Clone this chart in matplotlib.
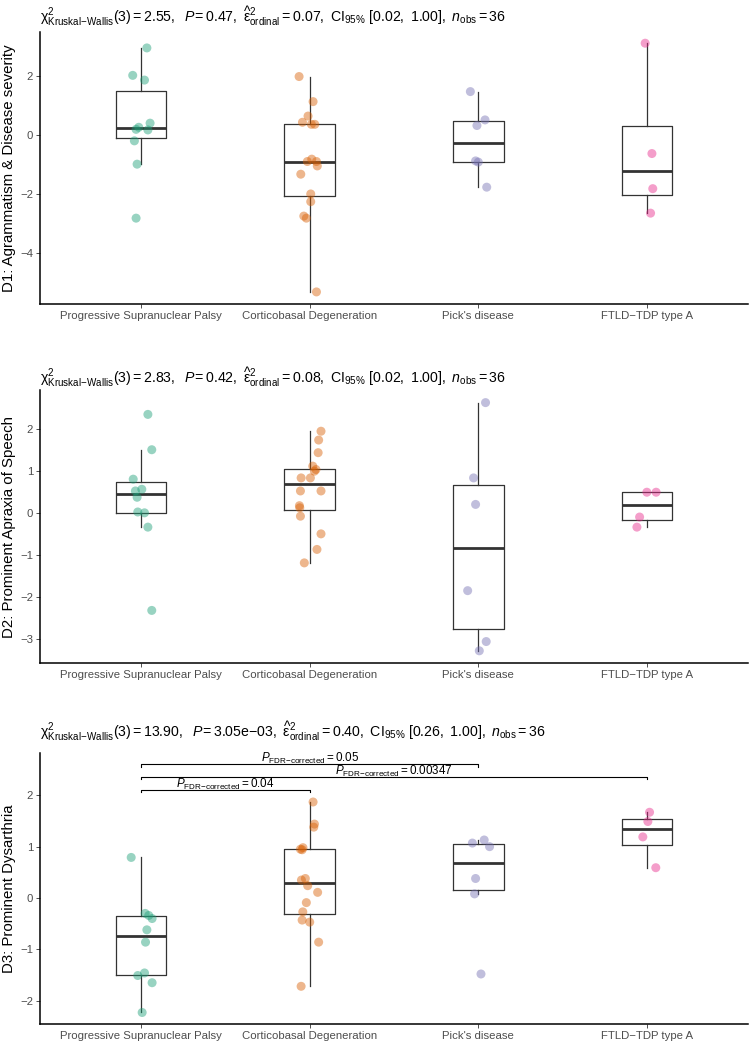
import numpy as np
import matplotlib
matplotlib.use('Agg')
from matplotlib import pyplot as plt

plt.rcParams['font.family'] = ['Liberation Sans', 'DejaVu Sans']
plt.rcParams['mathtext.fontset'] = 'custom'
plt.rcParams['mathtext.rm'] = 'Liberation Sans'
plt.rcParams['mathtext.it'] = 'Liberation Sans:italic'
plt.rcParams['mathtext.bf'] = 'Liberation Sans:bold'
plt.rcParams['mathtext.default'] = 'regular'

groups = ['Progressive Supranuclear Palsy', 'Corticobasal Degeneration',
          "Pick's disease", 'FTLD\u2212TDP type A']
colors = ['#1B9E77', '#D95F02', '#7570B3', '#E7298A']

# D1: Agrammatism & Disease severity
d1_psp = [2.95, 2.02, 1.86, 0.40, 0.26, 0.19, 0.17, -0.20, -0.99, -2.82]
d1_cbd = [1.98, 1.13, 0.64, 0.43, 0.36, 0.36, -0.82, -0.90, -0.90, -1.05,
          -1.33, -2.00, -2.26, -2.75, -2.82, -5.32]
d1_pick = [1.47, 0.51, 0.32, -0.88, -0.92, -1.77]
d1_ftld = [3.11, -0.63, -1.82, -2.65]

# D2: Prominent Apraxia of Speech
d2_psp = [2.34, 1.50, 0.80, 0.56, 0.52, 0.37, 0.02, 0.00, -0.34, -2.32]
d2_cbd = [1.94, 1.73, 1.43, 1.11, 1.03, 0.99, 0.83, 0.83, 0.52, 0.52,
          0.17, 0.12, -0.08, -0.50, -0.87, -1.19]
d2_pick = [2.62, 0.83, 0.20, -1.85, -3.06, -3.28]
d2_ftld = [0.49, 0.49, -0.10, -0.34]

# D3: Prominent Dysarthria
d3_psp = [0.79, -0.30, -0.34, -0.40, -0.62, -0.86, -1.46, -1.51, -1.65, -2.23]
d3_cbd = [1.87, 1.44, 1.38, 0.98, 0.95, 0.94, 0.38, 0.35, 0.24, 0.11,
          -0.09, -0.27, -0.43, -0.47, -0.86, -1.72]
d3_pick = [1.13, 1.07, 1.00, 0.38, 0.08, -1.48]
d3_ftld = [1.67, 1.49, 1.19, 0.59]

# horizontal jitter of the points
j1 = [[0.034, -0.05, 0.02, 0.053, -0.014, -0.03, 0.04, -0.04, -0.024, -0.03],
      [-0.063, 0.02, -0.01, -0.043, 0.01, 0.03, 0.012, -0.014, 0.04, 0.045,
       -0.053, 0.006, 0.006, -0.035, -0.02, 0.04],
      [-0.047, 0.04, -0.008, -0.016, 0.0, 0.05],
      [-0.01, 0.03, 0.035, 0.022]]
j2 = [[0.04, 0.063, -0.047, 0.004, -0.034, -0.024, -0.02, 0.02, 0.04, 0.063],
      [0.067, 0.053, 0.05, 0.018, 0.037, 0.028, -0.051, 0.004, -0.055, 0.067,
       -0.061, -0.059, -0.055, 0.067, 0.043, -0.032],
      [0.043, -0.028, -0.016, -0.063, 0.047, 0.006],
      [0.0, 0.055, -0.043, -0.059]]
j3 = [[-0.059, 0.024, 0.045, 0.065, 0.034, 0.026, 0.02, -0.02, 0.065, 0.006],
      [0.02, 0.028, 0.024, -0.04, -0.055, -0.045, -0.026, -0.049, -0.012, 0.047,
       -0.02, -0.041, -0.045, 0.0, 0.053, -0.051],
      [0.035, -0.035, 0.067, -0.016, -0.022, 0.016],
      [0.016, 0.006, -0.024, 0.053]]

titles = [
    r'$\chi^{2}_{\mathrm{Kruskal{-}Wallis}}(3) = 2.55,\ \ \mathit{P}\!= 0.47,\ \widehat{\varepsilon}^{2}_{\mathrm{ordinal}} = 0.07,\ \mathrm{CI}_{95\%}\ [0.02,\ 1.00],\ \mathit{n}_{\mathrm{obs}} = 36$',
    r'$\chi^{2}_{\mathrm{Kruskal{-}Wallis}}(3) = 2.83,\ \ \mathit{P}\!= 0.42,\ \widehat{\varepsilon}^{2}_{\mathrm{ordinal}} = 0.08,\ \mathrm{CI}_{95\%}\ [0.02,\ 1.00],\ \mathit{n}_{\mathrm{obs}} = 36$',
    r'$\chi^{2}_{\mathrm{Kruskal{-}Wallis}}(3) = 13.90,\ \ \mathit{P}\!= \mathrm{3.05e{-}03},\ \widehat{\varepsilon}^{2}_{\mathrm{ordinal}} = 0.40,\ \mathrm{CI}_{95\%}\ [0.26,\ 1.00],\ \mathit{n}_{\mathrm{obs}} = 36$',
]
ylabels = ['D1: Agrammatism & Disease severity', 'D2: Prominent Apraxia of Speech',
           'D3: Prominent Dysarthria']

# pairwise comparisons in D3
pairs = [(1, 3), (1, 4), (1, 2)]
pair_p = ['0.05', '0.00347', '0.04']
pair_y = [2.61, 2.36, 2.11]

data = [[d1_psp, d1_cbd, d1_pick, d1_ftld],
        [d2_psp, d2_cbd, d2_pick, d2_ftld],
        [d3_psp, d3_cbd, d3_pick, d3_ftld]]
jit = [j1, j2, j3]
ylims = [(-5.74, 3.50), (-3.57, 2.92), (-2.46, 2.83)]
yticks = [[-4, -2, 0, 2], [-3, -2, -1, 0, 1, 2], [-2, -1, 0, 1, 2]]

W, H = 750, 1046
fig = plt.figure(figsize=(W / 100, H / 100), dpi=100, facecolor='white')
# axes boxes in pixels: (top, bottom)
boxes = [(31.7, 304.3), (390, 663), (752.7, 1024.3)]
title_y = [16, 377, 731]
left, right = 40, 748

for i in range(3):
    top, bot = boxes[i]
    ax = fig.add_axes([left / W, 1 - bot / H, (right - left) / W, (bot - top) / H])
    ax.boxplot(data[i], positions=[1, 2, 3, 4], widths=0.3, showfliers=False,
               showcaps=False, whis=1.5,
               boxprops=dict(color='#333333', linewidth=0.9),
               whiskerprops=dict(color='#333333', linewidth=0.9),
               medianprops=dict(color='#333333', linewidth=2.0))
    for g in range(4):
        x = np.array(jit[i][g]) + g + 1
        ax.scatter(x, data[i][g], s=42, color=colors[g], alpha=0.45,
                   edgecolors='none', zorder=3)
    ax.set_xlim(0.4, 4.6)
    ax.set_ylim(*ylims[i])
    ax.set_yticks(yticks[i])
    ax.set_xticks([1, 2, 3, 4])
    ax.set_xticklabels(groups)
    for s in ['top', 'right']:
        ax.spines[s].set_visible(False)
    for s in ['left', 'bottom']:
        ax.spines[s].set_linewidth(1.1)
        ax.spines[s].set_color('black')
    ax.tick_params(axis='both', colors='#333333', labelcolor='#4D4D4D',
                   labelsize=8.2, length=3, width=0.6, pad=2)
    ax.set_ylabel(ylabels[i], fontsize=10.8, color='black', labelpad=3)
    fig.text(left / W, 1 - title_y[i] / H, titles[i], fontsize=10.2,
             ha='left', va='center')

    if i == 2:
        for (a, b), p, yv in zip(pairs, pair_p, pair_y):
            ax.plot([a, a, b, b], [yv - 0.05, yv, yv, yv - 0.05],
                    color='black', linewidth=0.8)
            ax.text((a + b) / 2, yv + 0.04,
                    r'$\mathit{P}_{\mathrm{FDR{-}corrected}} = ' + p + '$',
                    fontsize=8.4, ha='center', va='baseline')

fig.savefig('out.png', dpi=100, facecolor='white')
